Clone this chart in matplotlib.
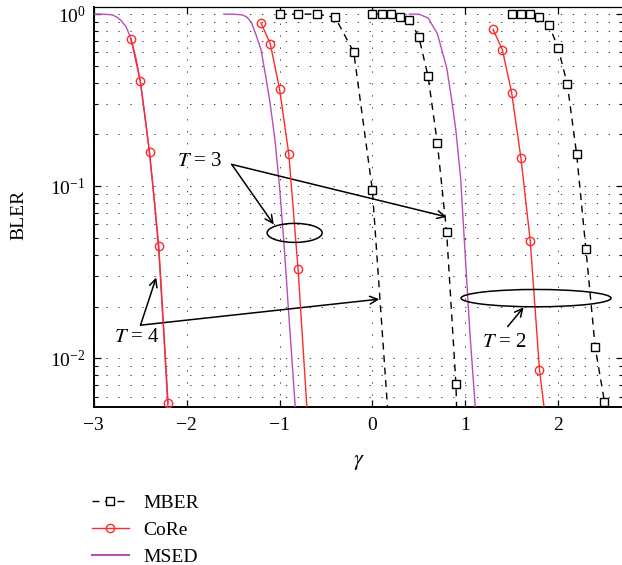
import numpy as np
import matplotlib
matplotlib.use("Agg")
import matplotlib.pyplot as plt
from matplotlib.patches import Ellipse
from matplotlib.lines import Line2D

plt.rcParams['font.family'] = ['Liberation Serif', 'DejaVu Serif']
plt.rcParams['mathtext.fontset'] = 'stix'

# ---- data ----
# T = 4
msed4_x = [-3.0, -2.9, -2.8, -2.75, -2.7, -2.65, -2.6, -2.55, -2.5, -2.45, -2.4, -2.35, -2.3, -2.25, -2.2, -2.15]
msed4_y = [1.0, 1.0, 0.99, 0.96, 0.91, 0.84, 0.72, 0.57, 0.41, 0.26, 0.155, 0.085, 0.042, 0.015, 0.005, 0.002]
core4_x = [-2.6, -2.5, -2.4, -2.3, -2.2]
core4_y = [0.72, 0.41, 0.158, 0.045, 0.0055]
mber4_x = [-1.0, -0.8, -0.6, -0.4, -0.2, 0.0, 0.2]
mber4_y = [1.0, 1.0, 1.0, 0.957, 0.60, 0.095, 0.0027]

# T = 3
msed3_x = [-1.6, -1.5, -1.4, -1.35, -1.3, -1.25, -1.2, -1.15, -1.1, -1.05, -1.0, -0.95, -0.9, -0.85, -0.8]
msed3_y = [1.0, 1.0, 0.99, 0.96, 0.89, 0.75, 0.625, 0.44, 0.30, 0.188, 0.10, 0.045, 0.018, 0.0074, 0.003]
core3_x = [-1.2, -1.1, -1.0, -0.9, -0.8, -0.7]
core3_y = [0.89, 0.675, 0.369, 0.154, 0.033, 0.0047]
mber3_x = [0.0, 0.1, 0.2, 0.3, 0.4, 0.5, 0.6, 0.7, 0.8, 0.9, 1.0]
mber3_y = [1.0, 1.0, 1.0, 0.957, 0.93, 0.74, 0.435, 0.178, 0.054, 0.0071, 0.0001]

# T = 2
msed2_x = [0.4, 0.5, 0.6, 0.7, 0.8, 0.85, 0.9, 0.95, 1.0, 1.05, 1.1, 1.15]
msed2_y = [1.0, 1.0, 0.95, 0.77, 0.49, 0.33, 0.21, 0.113, 0.040, 0.0142, 0.006, 0.0025]
core2_x = [1.3, 1.4, 1.5, 1.6, 1.7, 1.8, 1.9]
core2_y = [0.815, 0.621, 0.35, 0.146, 0.0484, 0.0086, 0.0031]
mber2_x = [1.5, 1.6, 1.7, 1.8, 1.9, 2.0, 2.1, 2.2, 2.3, 2.4, 2.5]
mber2_y = [1.0, 1.0, 1.0, 0.957, 0.87, 0.638, 0.391, 0.154, 0.043, 0.0116, 0.0056]

xticks = [-3, -2, -1, 0, 1, 2]
legend_labels = ['MBER', 'CoRe', 'MSED']

MSED_COLOR = '#b84db8'
CORE_COLOR = '#ff2a2a'


def main():
    fig = plt.figure(figsize=(6.22, 5.65), dpi=100)
    ax = fig.add_axes([0.1508, 0.2791, 0.8509, 0.7085])

    # curves
    for x, y in [(msed4_x, msed4_y), (msed3_x, msed3_y), (msed2_x, msed2_y)]:
        ax.plot(x, y, color=MSED_COLOR, lw=1.0, zorder=3)
    for x, y in [(core4_x, core4_y), (core3_x, core3_y), (core2_x, core2_y)]:
        ax.plot(x, y, color=CORE_COLOR, lw=1.0, marker='o', ms=6,
                mfc='none', mec=CORE_COLOR, mew=1.0, zorder=4)
    for x, y in [(mber4_x, mber4_y), (mber3_x, mber3_y), (mber2_x, mber2_y)]:
        ax.plot(x, y, color='black', lw=1.0, ls=(0, (5, 4)), marker='s', ms=5.5,
                mfc='white', mec='black', mew=1.0, zorder=5)

    ax.set_yscale('log')
    ax.set_xlim(-3, 2.7)
    ax.set_ylim(0.0052, 1.1)
    ax.set_xticks(xticks)

    # dotted grid (MATLAB style)
    ax.grid(True, which='major', axis='both', color='#333333', lw=0.7, ls=(0, (1.3, 11)))
    ax.grid(True, which='minor', axis='y', color='#333333', lw=0.7, ls=(0, (1.3, 11)))
    ax.set_axisbelow(True)

    ax.tick_params(which='both', direction='in', top=True, right=True, labelsize=14)
    ax.tick_params(which='major', length=5, width=0.9)
    ax.tick_params(which='minor', length=3, width=0.8)
    ax.tick_params(axis='x', which='minor', bottom=False, top=False)
    ax.tick_params(axis='x', pad=7)
    ax.tick_params(axis='y', pad=6)
    for s in ['left', 'bottom']:
        ax.spines[s].set_linewidth(1.4)
    for s in ['top', 'right']:
        ax.spines[s].set_linewidth(0.9)

    ax.set_xlabel(r'$\gamma$', fontsize=16)
    ax.xaxis.set_label_coords(0.5, -0.115)
    ax.set_ylabel('BLER', fontsize=14)
    ax.yaxis.set_label_coords(-0.125, 0.48)

    # annotations
    ap = dict(arrowstyle='->', lw=1.1, color='black', shrinkA=0, shrinkB=0, mutation_scale=14)
    ax_w = 0.8509 * 622
    ax_h = 0.7085 * 565

    def ellipse(x, y, w_px, h_px):
        cx, cy = ax.transAxes.inverted().transform(ax.transData.transform((x, y)))
        ax.add_patch(Ellipse((cx, cy), w_px / ax_w, h_px / ax_h, transform=ax.transAxes,
                             fill=False, lw=1.1, color='black', zorder=6))

    # T = 3
    ax.text(-1.61, 0.14, r'$T$ = 3', fontsize=15, ha='right', va='center')
    ax.annotate('', xy=(-1.062, 0.060), xytext=(-1.515, 0.134), arrowprops=ap)
    ax.annotate('', xy=(0.80, 0.0664), xytext=(-1.515, 0.134), arrowprops=ap)
    ellipse(-0.837, 0.0536, 55, 19)

    # T = 4
    ax.text(-2.29, 0.0132, r'$T$ = 4', fontsize=15, ha='right', va='center')
    ax.annotate('', xy=(-2.328, 0.0295), xytext=(-2.497, 0.0156), arrowprops=ap)
    ax.annotate('', xy=(0.075, 0.0221), xytext=(-2.497, 0.0156), arrowprops=ap)

    # T = 2
    ax.text(1.176, 0.01244, r'$T$ = 2', fontsize=15, ha='left', va='center')
    ax.annotate('', xy=(1.629, 0.0198), xytext=(1.457, 0.0153), arrowprops=ap)
    ellipse(1.763, 0.0224, 150, 17.3)

    # legend below the axes
    handles = [
        Line2D([], [], color='black', lw=1.0, ls=(0, (5, 4)), marker='s', ms=5.5, mfc='white', mec='black'),
        Line2D([], [], color=CORE_COLOR, lw=1.0, marker='o', ms=6, mfc='none', mec=CORE_COLOR),
        Line2D([], [], color=MSED_COLOR, lw=1.5),
    ]
    fig.legend(handles, legend_labels, loc='upper left', bbox_to_anchor=(92 / 622, 1 - 494 / 565),
               frameon=False, fontsize=14, handlelength=1.9, handletextpad=0.75,
               labelspacing=0.5, borderpad=0, borderaxespad=0)

    fig.savefig('out.png', dpi=100)


if __name__ == "__main__":
    main()
